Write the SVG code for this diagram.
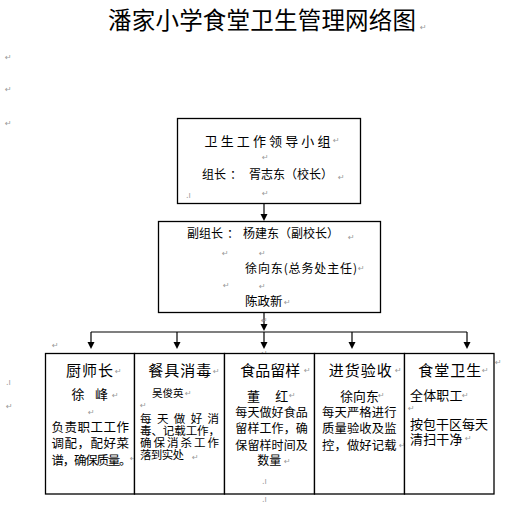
<svg xmlns="http://www.w3.org/2000/svg" width="523" height="511" viewBox="0 0 523 511">
<style>
text{font-family:"Noto Sans CJK SC","Liberation Sans",sans-serif;fill:#000}
.box{fill:#fff;stroke:#000;stroke-width:1.3}
.ln{stroke:#000;stroke-width:1.2;fill:none}
.ah{fill:#000}
.pm{font-family:"DejaVu Sans",sans-serif;font-size:8px;fill:#999}
.hd{font-size:15px}
.t13{font-size:13px}
</style>
<rect width="523" height="511" fill="#fff"/>
<g id="title">
<text x="108" y="29" font-size="23.5" textLength="308" lengthAdjust="spacing">潘家小学食堂卫生管理网络图</text>
<text class="pm" x="420" y="30">↵</text>
</g>
<g id="margin-marks">
<text class="pm" x="5" y="60">↵</text>
<text class="pm" x="5" y="92">↵</text>
<text class="pm" x="5" y="126">↵</text>
<text class="pm" x="6" y="385" font-size="5">.ı</text>
<text class="pm" x="6" y="409">↵</text>
<text class="pm" x="52" y="348">↵</text>
<text class="pm" x="495" y="365">↵</text>
</g>
<g id="connectors">
<line class="ln" x1="264" y1="203" x2="264" y2="216"/>
<polygon class="ah" points="260.5,214 267.5,214 264,221"/>
<line class="ln" x1="264" y1="313" x2="264" y2="326"/>
<polygon class="ah" points="260.5,324 267.5,324 264,331"/>
<line class="ln" x1="91" y1="332" x2="467" y2="332"/>
<line class="ln" x1="91" y1="332" x2="91" y2="344"/>
<polygon class="ah" points="87.5,342 94.5,342 91,349"/>
<line class="ln" x1="177" y1="332" x2="177" y2="344"/>
<polygon class="ah" points="173.5,342 180.5,342 177,349"/>
<line class="ln" x1="264" y1="332" x2="264" y2="344"/>
<polygon class="ah" points="260.5,342 267.5,342 264,349"/>
<line class="ln" x1="352" y1="332" x2="352" y2="344"/>
<polygon class="ah" points="348.5,342 355.5,342 352,349"/>
<line class="ln" x1="467" y1="332" x2="467" y2="344"/>
<polygon class="ah" points="463.5,342 470.5,342 467,349"/>
<text class="pm" x="261" y="323">↵</text>
<text class="pm" x="261" y="356">↵</text>
</g>
<g id="leader-group">
<rect class="box" x="177.5" y="118.5" width="183" height="85"/>
<text x="204.5" y="145.5" font-size="13" textLength="126" lengthAdjust="spacing">卫生工作领导小组</text>
<text class="pm" x="333" y="143">↵</text>
<text class="pm" x="262" y="160">↵</text>
<text x="202" y="179" font-size="12">组长</text>
<text x="230" y="179" font-size="12">：</text>
<text x="249" y="179" font-size="12">胥志东（校长）</text>
<text class="pm" x="338" y="180">↵</text>
<text class="pm" x="262" y="196">↵</text>
<text class="pm" x="186" y="198" font-size="5">.ı</text>
</g>
<g id="deputy-group">
<rect class="box" x="158.5" y="221.5" width="222" height="91"/>
<text x="187" y="237.5" font-size="12">副组长</text>
<text x="227" y="237.5" font-size="12">：</text>
<text x="243" y="237.5" font-size="12">杨建东（副校长）</text>
<text class="pm" x="348" y="240">↵</text>
<text class="pm" x="222" y="256">↵</text>
<text class="pm" x="259" y="256">↵</text>
<text x="245" y="272.5" font-size="12" textLength="112" lengthAdjust="spacing">徐向东(总务处主任)</text>
<text class="pm" x="358" y="271">↵</text>
<text class="pm" x="223" y="288">↵</text>
<text class="pm" x="259" y="289">↵</text>
<text x="245" y="305.5" font-size="12.5">陈政新</text>
<text class="pm" x="284" y="305">↵</text>
</g>
<g id="chef">
<rect class="box" x="45.5" y="353.5" width="89" height="140.5"/>
<text class="hd" x="66" y="376" textLength="47" lengthAdjust="spacing">厨师长</text>
<text class="pm" x="115" y="374">↵</text>
<text class="t13" x="71.5" y="399">徐</text>
<text class="t13" x="95" y="399">峰</text>
<text class="pm" x="112" y="398">↵</text>
<text class="pm" x="88" y="415">↵</text>
<text font-size="12.5" x="51.5" y="432" textLength="77.5" lengthAdjust="spacing">负责职工工作</text>
<text font-size="12.5" x="51.5" y="448" textLength="77.5" lengthAdjust="spacing">调配，配好菜</text>
<text font-size="12.5" x="51.5" y="464.5" textLength="80" lengthAdjust="spacing">谱，确保质量。</text>
<text class="pm" x="130" y="461">↵</text>
</g>
<g id="tableware">
<rect class="box" x="134.5" y="353.5" width="90" height="140.5"/>
<text class="hd" x="148.3" y="376" textLength="63" lengthAdjust="spacing">餐具消毒</text>
<text class="pm" x="213" y="374">↵</text>
<text x="152" y="397" font-size="10.5">吴俊英</text>
<text class="pm" x="185" y="396">↵</text>
<text class="pm" x="140" y="408">↵</text>
<text font-size="11.5" x="140" y="422.5" textLength="79" lengthAdjust="spacing">每天做好消</text>
<text font-size="11.5" x="140" y="434.5" textLength="80" lengthAdjust="spacing">毒、记载工作，</text>
<text font-size="11.5" x="140" y="447" textLength="79" lengthAdjust="spacing">确保消杀工作</text>
<text font-size="11.5" x="140" y="459" textLength="44" lengthAdjust="spacing">落到实处</text>
<text class="pm" x="192" y="460">↵</text>
</g>
<g id="sample">
<rect class="box" x="224.5" y="353.5" width="90" height="140.5"/>
<text class="hd" x="240.3" y="376" textLength="60" lengthAdjust="spacing">食品留样</text>
<text class="pm" x="304" y="373">↵</text>
<text class="t13" x="247" y="401">董</text>
<text class="t13" x="275.3" y="401">红</text>
<text class="pm" x="289" y="398">↵</text>
<text font-size="12" x="235.3" y="416.5" textLength="72.5" lengthAdjust="spacing">每天做好食品</text>
<text font-size="12" x="235.3" y="433" textLength="72.5" lengthAdjust="spacing">留样工作，确</text>
<text font-size="12" x="235.3" y="449.5" textLength="72.5" lengthAdjust="spacing">保留样时间及</text>
<text font-size="12" x="257.3" y="464.5">数量</text>
<text class="pm" x="284" y="464">↵</text>
<text class="pm" x="262" y="484" font-size="5">.ı</text>
<text class="pm" x="262" y="502" font-size="5">.ı</text>
</g>
<g id="inspection">
<rect class="box" x="314.5" y="353.5" width="90" height="140.5"/>
<text class="hd" x="328.7" y="376" textLength="63" lengthAdjust="spacing">进货验收</text>
<text class="pm" x="395" y="373">↵</text>
<text x="340.3" y="401" font-size="12.8">徐向东</text>
<text class="pm" x="378" y="398">↵</text>
<text font-size="12.3" x="322" y="416.5" textLength="74.5" lengthAdjust="spacing">每天严格进行</text>
<text font-size="12.3" x="322" y="433" textLength="74.5" lengthAdjust="spacing">质量验收及监</text>
<text font-size="12.3" x="322" y="449.5" textLength="74.5" lengthAdjust="spacing">控，做好记载</text>
<text class="pm" x="399" y="448">↵</text>
</g>
<g id="hygiene">
<rect class="box" x="404.5" y="353.5" width="89.5" height="140.5"/>
<text class="hd" x="418.3" y="376" textLength="63" lengthAdjust="spacing">食堂卫生</text>
<text class="pm" x="482" y="373">↵</text>
<text class="t13" x="410" y="399.5" textLength="52.5" lengthAdjust="spacing">全体职工</text>
<text class="pm" x="462" y="398">↵</text>
<text class="pm" x="408" y="411">↵</text>
<text class="t13" x="410" y="429" textLength="78" lengthAdjust="spacing">按包干区每天</text>
<text class="t13" x="410" y="444" textLength="52.5" lengthAdjust="spacing">清扫干净</text>
<text class="pm" x="465" y="441">↵</text>
</g>
</svg>
